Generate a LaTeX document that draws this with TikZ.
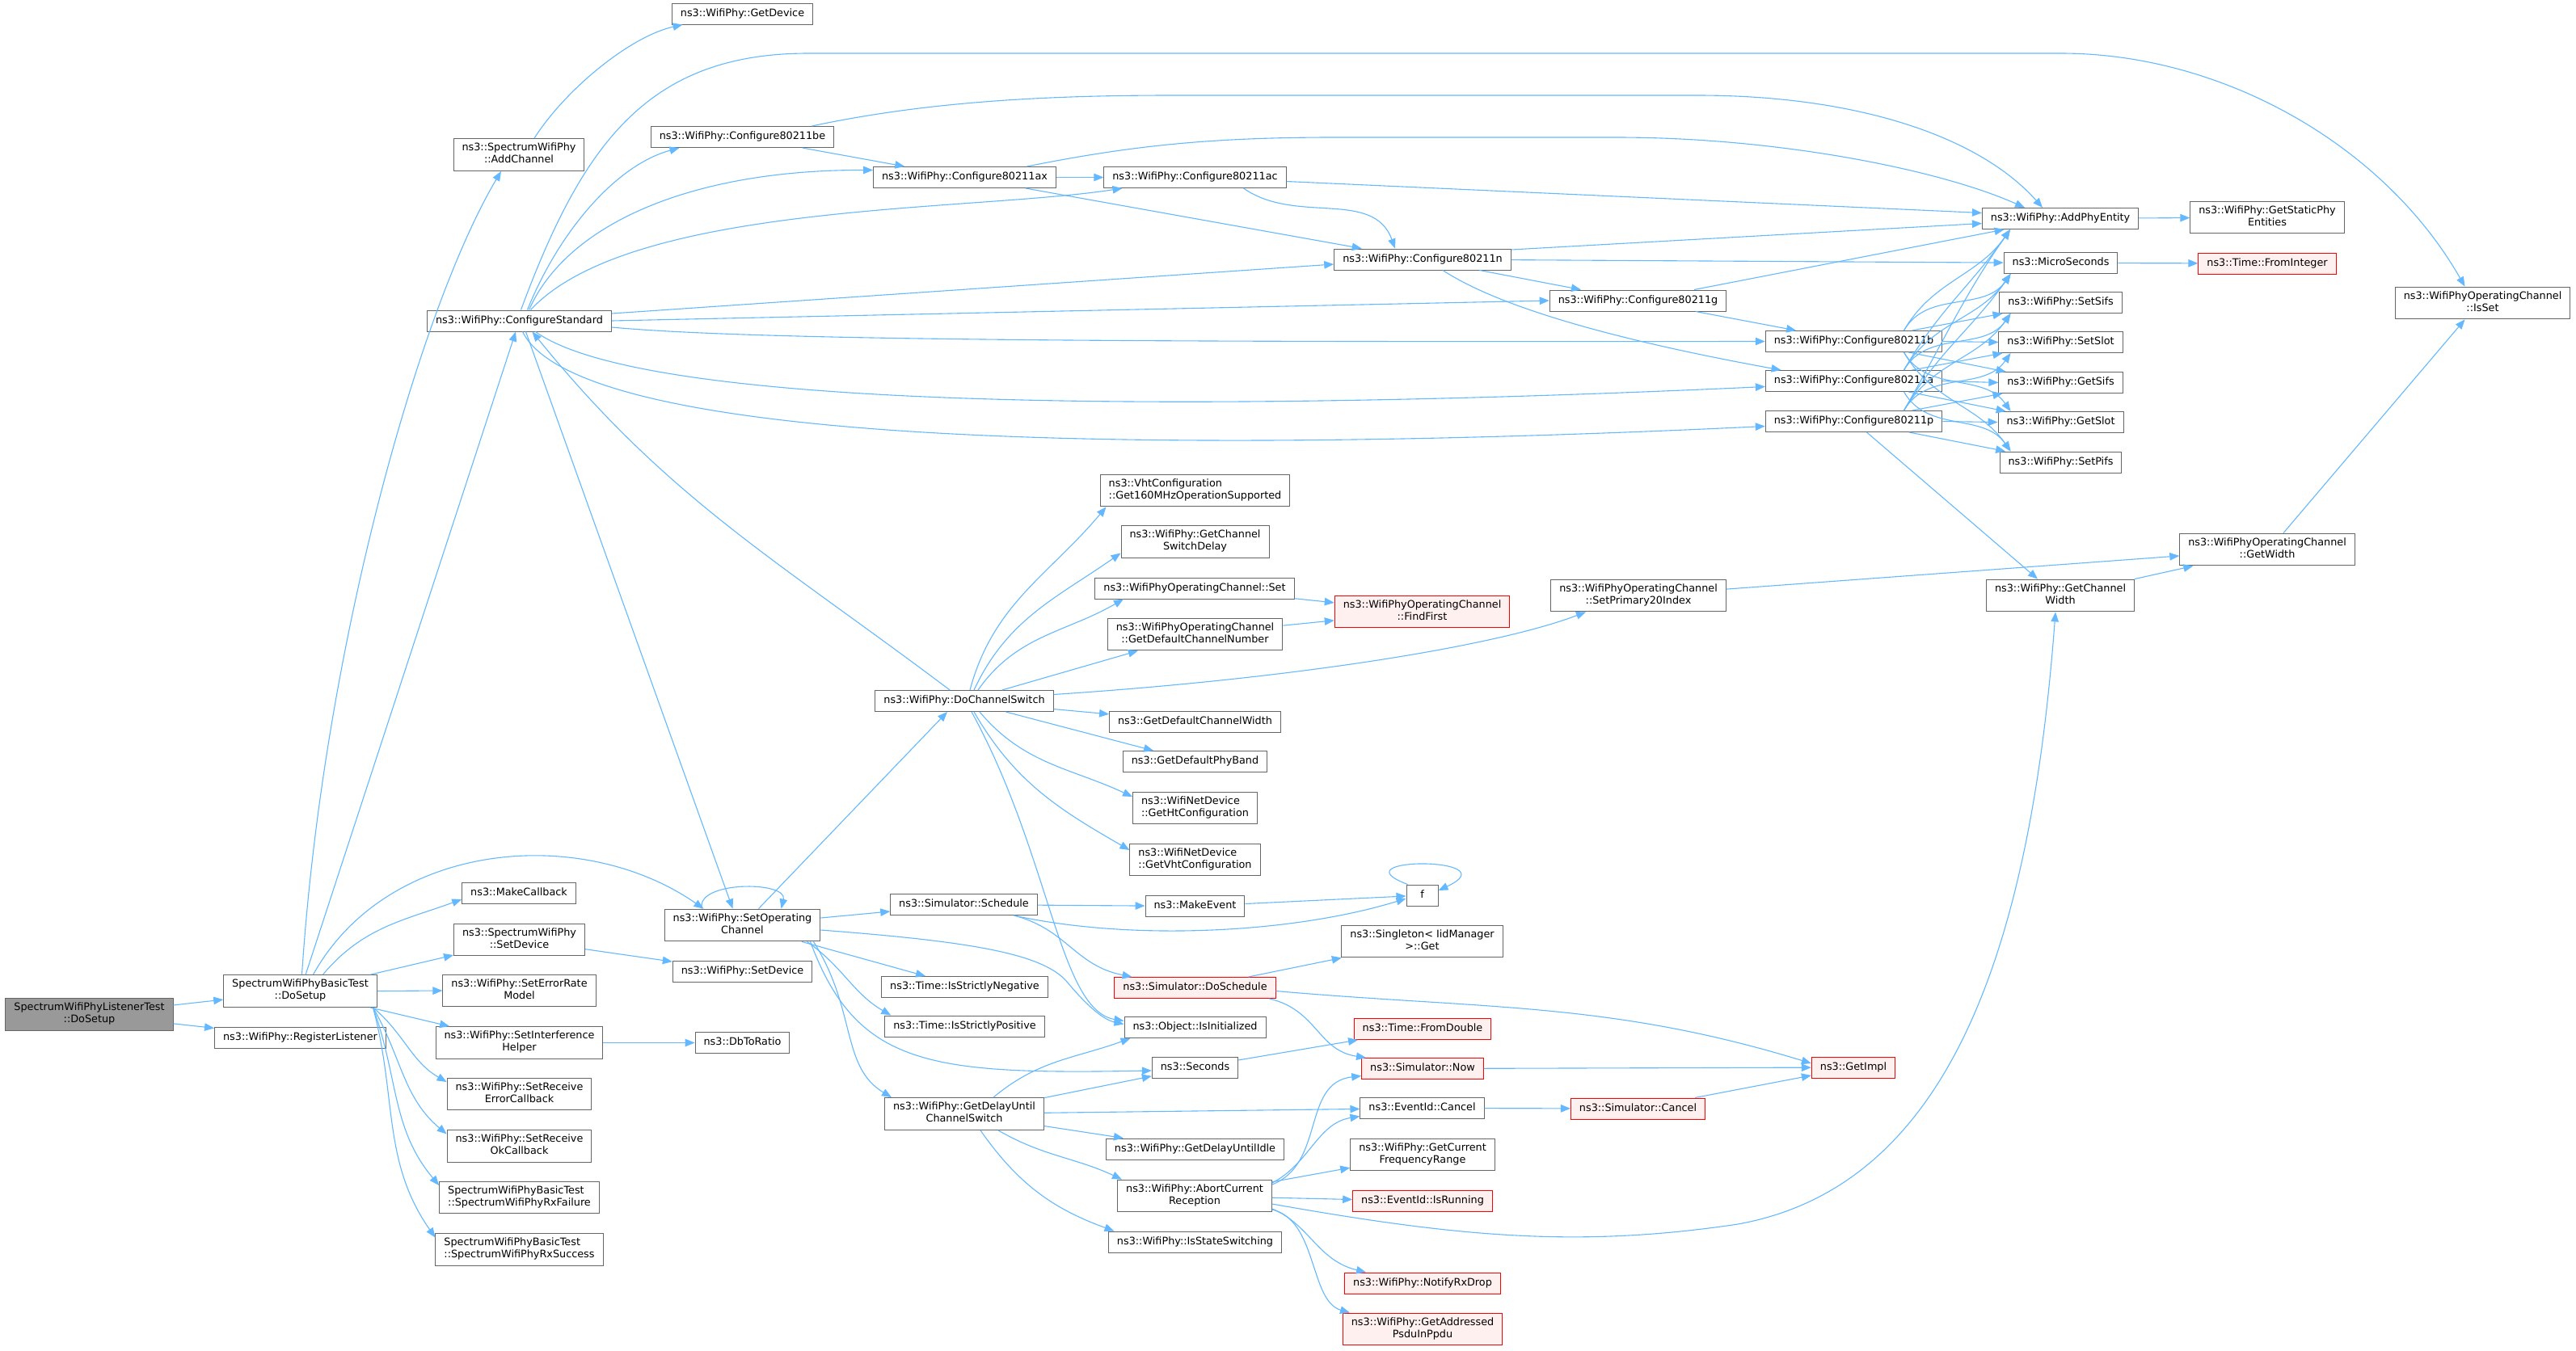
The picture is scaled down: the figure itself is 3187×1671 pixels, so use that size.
\documentclass[tikz,border=0pt]{standalone}
\usepackage{fontspec}
\setmainfont{DejaVu Sans}
\usetikzlibrary{arrows.meta}
\definecolor{edgeblue}{HTML}{63B8FF}
\definecolor{boxgray}{HTML}{666666}
\definecolor{rootfill}{HTML}{999999}
\definecolor{redfill}{HTML}{FFF0F0}

\begin{document}
\begin{tikzpicture}[x=1pt,y=1pt,
  fn/.style={draw=boxgray, line width=1pt, fill=white, inner xsep=10.5pt, inner ysep=5.3pt,
    minimum height=26pt, minimum width=39pt, align=center,
    font=\fontsize{12.8}{15}\selectfont, execute at begin node=\strut, execute at end node=\strut},
  root/.style={fn, fill=rootfill},
  miss/.style={fn, draw=red, fill=redfill},
  edge/.style={draw=edgeblue, line width=1.1pt, -{Triangle[length=12pt,width=9.5pt]}}]
\useasboundingbox (0,0) rectangle (3187,-1671);

\node[root] (lt) at (110.5,-1255.5) {SpectrumWifiPhyListenerTest\\::DoSetup};
\node[fn] (bt) at (371.5,-1226.5) {SpectrumWifiPhyBasicTest\\::DoSetup};
\node[fn] (rl) at (371.5,-1284) {ns3::WifiPhy::RegisterListener};
\node[fn] (mc) at (642,-1105) {ns3::MakeCallback};
\node[fn] (sd) at (642.5,-1163) {ns3::SpectrumWifiPhy\\::SetDevice};
\node[fn] (erm) at (642.5,-1226) {ns3::WifiPhy::SetErrorRate\\Model};
\node[fn] (ih) at (642.5,-1290.5) {ns3::WifiPhy::SetInterference\\Helper};
\node[fn] (rec) at (642.5,-1354) {ns3::WifiPhy::SetReceive\\ErrorCallback};
\node[fn] (roc) at (642.5,-1418.5) {ns3::WifiPhy::SetReceive\\OkCallback};
\node[fn,align=left] (rxf) at (642.5,-1482) {SpectrumWifiPhyBasicTest\\::SpectrumWifiPhyRxFailure};
\node[fn,align=left] (rxs) at (642.5,-1546.5) {SpectrumWifiPhyBasicTest\\::SpectrumWifiPhyRxSuccess};
\node[fn] (ac) at (642,-191.5) {ns3::SpectrumWifiPhy\\::AddChannel};
\node[fn] (cs) at (642.5,-397) {ns3::WifiPhy::ConfigureStandard};
\node[fn] (gd) at (918.5,-17) {ns3::WifiPhy::GetDevice};
\node[fn] (be) at (918.5,-169.5) {ns3::WifiPhy::Configure80211be};
\node[fn] (ax) at (1193.5,-219.5) {ns3::WifiPhy::Configure80211ax};
\node[fn] (acc) at (1478.5,-219.5) {ns3::WifiPhy::Configure80211ac};
\node[fn] (n) at (1760,-321) {ns3::WifiPhy::Configure80211n};
\node[fn] (g) at (2026.5,-372) {ns3::WifiPhy::Configure80211g};
\node[fn] (b) at (2293.5,-422.5) {ns3::WifiPhy::Configure80211b};
\node[fn] (a) at (2293.5,-471.5) {ns3::WifiPhy::Configure80211a};
\node[fn] (p) at (2293.5,-521.5) {ns3::WifiPhy::Configure80211p};
\node[fn] (ape) at (2549,-270.5) {ns3::WifiPhy::AddPhyEntity};
\node[fn] (gspe) at (2805,-269) {ns3::WifiPhy::GetStaticPhy\\Entities};
\node[fn] (us) at (2549.5,-325.5) {ns3::MicroSeconds};
\node[miss] (fi) at (2805,-326) {ns3::Time::FromInteger};
\node[fn] (ssifs) at (2549.5,-374.5) {ns3::WifiPhy::SetSifs};
\node[fn] (sslot) at (2549.5,-423.5) {ns3::WifiPhy::SetSlot};
\node[fn] (gsifs) at (2549.5,-473.5) {ns3::WifiPhy::GetSifs};
\node[fn] (gslot) at (2549.5,-522.5) {ns3::WifiPhy::GetSlot};
\node[fn] (spifs) at (2549.5,-572) {ns3::WifiPhy::SetPifs};
\node[fn] (isset) at (3071.5,-375) {ns3::WifiPhyOperatingChannel\\::IsSet};
\node[fn] (gw) at (2805,-680) {ns3::WifiPhyOperatingChannel\\::GetWidth};
\node[fn] (sp20) at (2027,-737) {ns3::WifiPhyOperatingChannel\\::SetPrimary20Index};
\node[fn] (gcw) at (2549,-737) {ns3::WifiPhy::GetChannel\\Width};
\node[miss] (ff) at (1759.5,-757) {ns3::WifiPhyOperatingChannel\\::FindFirst};
\node[fn,align=left] (vht) at (1478.5,-607) {ns3::VhtConfiguration\\::Get160MHzOperationSupported};
\node[fn] (gcsd) at (1478.5,-670.5) {ns3::WifiPhy::GetChannel\\SwitchDelay};
\node[fn] (ocset) at (1478,-728) {ns3::WifiPhyOperatingChannel::Set};
\node[fn] (gdcn) at (1478.5,-785) {ns3::WifiPhyOperatingChannel\\::GetDefaultChannelNumber};
\node[fn] (dcs) at (1193,-867.5) {ns3::WifiPhy::DoChannelSwitch};
\node[fn] (gdcw) at (1478.5,-893.5) {ns3::GetDefaultChannelWidth};
\node[fn] (gdpb) at (1478.5,-942.5) {ns3::GetDefaultPhyBand};
\node[fn,align=left] (ght) at (1478.5,-1000) {ns3::WifiNetDevice\\::GetHtConfiguration};
\node[fn,align=left] (gvht) at (1478.5,-1064) {ns3::WifiNetDevice\\::GetVhtConfiguration};
\node[fn] (soc) at (918.5,-1145) {ns3::WifiPhy::SetOperating\\Channel};
\node[fn] (wsd) at (918.5,-1202.5) {ns3::WifiPhy::SetDevice};
\node[fn] (dbr) at (918.5,-1290.5) {ns3::DbToRatio};
\node[fn] (sch) at (1192.5,-1119.5) {ns3::Simulator::Schedule};
\node[fn] (isn) at (1193.5,-1221.5) {ns3::Time::IsStrictlyNegative};
\node[fn] (isp) at (1193.5,-1270) {ns3::Time::IsStrictlyPositive};
\node[fn] (gducs) at (1193,-1378.5) {ns3::WifiPhy::GetDelayUntil\\ChannelSwitch};
\node[fn] (me) at (1478.5,-1121.5) {ns3::MakeEvent};
\node[fn] (f) at (1759.5,-1108) {f};
\node[fn] (sing) at (1759.5,-1165) {ns3::Singleton< IidManager\\>::Get};
\node[miss] (dsch) at (1478.5,-1222.5) {ns3::Simulator::DoSchedule};
\node[fn] (oi) at (1478.5,-1271.5) {ns3::Object::IsInitialized};
\node[miss] (fd) at (1760,-1273.5) {ns3::Time::FromDouble};
\node[fn] (sec) at (1478.5,-1321) {ns3::Seconds};
\node[miss] (now) at (1760,-1322.5) {ns3::Simulator::Now};
\node[fn] (ecan) at (1759.5,-1371.5) {ns3::EventId::Cancel};
\node[fn] (gdui) at (1478.5,-1422) {ns3::WifiPhy::GetDelayUntilIdle};
\node[fn] (gcfr) at (1760,-1429) {ns3::WifiPhy::GetCurrent\\FrequencyRange};
\node[fn] (acr) at (1478,-1480) {ns3::WifiPhy::AbortCurrent\\Reception};
\node[miss] (eir) at (1760,-1486.5) {ns3::EventId::IsRunning};
\node[fn] (iss) at (1478.5,-1537) {ns3::WifiPhy::IsStateSwitching};
\node[miss] (scan) at (2026.5,-1372) {ns3::Simulator::Cancel};
\node[miss] (gi) at (2293,-1321) {ns3::GetImpl};
\node[miss] (nrd) at (1760,-1588) {ns3::WifiPhy::NotifyRxDrop};
\node[miss] (gap) at (1760,-1645) {ns3::WifiPhy::GetAddressed\\PsduInPpdu};

\draw[edge] (lt) -- (bt);
\draw[edge] (lt) -- (rl);
\draw[edge] ([xshift=2pt]bt.north) .. controls (400,-800) and (520,-380) .. ([xshift=-22pt]ac.south);
\draw[edge] (bt) -- (cs);
\draw[edge] ([xshift=16pt]bt.north) .. controls (480,-1040) and (720,-1020) .. ([xshift=-48pt]soc.north);
\draw[edge] ([xshift=28pt]bt.north) to[out=50,in=200] ([yshift=-8pt]mc.west);
\draw[edge] (bt) -- (sd);
\draw[edge] (bt.east) -- (erm.west);
\draw[edge] (bt) -- (ih);
\foreach \t/\o/\i in {rec/-40/150, roc/-60/140, rxf/-70/130, rxs/-75/125}
  \draw[edge] ([xshift=90pt]bt.south) to[out=\o,in=\i] ([yshift=15pt]\t.west);
\draw[edge] ([xshift=19pt]ac.north) .. controls (700,-110) and (780,-45) .. ([xshift=-74pt]gd.south);
\draw[edge] (sd) -- (wsd);
\draw[edge] (ih) -- (dbr);

\draw[edge] ([xshift=10pt]cs.north) .. controls (690,-290) and (760,-205) .. ([xshift=-78pt]be.south);
\draw[edge] ([xshift=12pt]cs.north) .. controls (700,-280) and (850,-210) .. ([yshift=9pt]ax.west);
\draw[edge] ([xshift=14pt]cs.north) .. controls (780,-250) and (1200,-262) .. ([xshift=-90pt]acc.south);
\draw[edge] ([yshift=9pt]cs.east) -- ([yshift=-6pt]n.west);
\draw[edge] (cs.east) -- (g.west);
\draw[edge] ([yshift=-8pt]cs.east) .. controls (950,-423) and (1500,-423) .. (b.west);
\draw[edge] ([xshift=20pt]cs.south) .. controls (800,-510) and (1500,-510) .. ([yshift=-7pt]a.west);
\draw[edge] ([xshift=4pt]cs.south) .. controls (720,-560) and (1500,-560) .. ([yshift=-6pt]p.west);
\draw[edge] ([xshift=2pt]cs.north) .. controls (720,-180) and (800,-66) .. (1000,-66) -- (2550,-66)
  .. controls (2750,-66) and (2950,-180) .. ([xshift=-22pt]isset.north);
\draw[edge] ([xshift=8pt]cs.south) -- ([xshift=-12pt]soc.north);

\draw[edge] (be) -- (ax);
\draw[edge] ([xshift=86pt]be.north) .. controls (1150,-125) and (1300,-118) .. (1450,-118) -- (2100,-118)
  .. controls (2300,-118) and (2450,-170) .. ([xshift=-22pt]ape.north);
\draw[edge] ([xshift=77pt]ax.north) .. controls (1400,-180) and (1500,-170) .. (1650,-170) -- (2000,-170)
  .. controls (2200,-170) and (2400,-210) .. ([xshift=-44pt]ape.north);
\draw[edge] (ax) -- (acc);
\draw[edge] (ax) -- (n);
\draw[edge] ([yshift=-5pt]acc.east) -- ([yshift=7pt]ape.west);
\draw[edge] ([xshift=60pt]acc.south) to[out=-35,in=110] ([xshift=-34pt]n.north);
\draw[edge] ([yshift=12pt]n.east) -- ([yshift=-6pt]ape.west);
\draw[edge] (n) -- (us);
\draw[edge] (n) -- (g);
\draw[edge] ([xshift=25pt]n.south) .. controls (1870,-390) and (2050,-430) .. ([xshift=-90pt]a.north);
\draw[edge] (g) -- (ape);
\draw[edge] (g) -- (b);

\foreach \s/\t in {b/ape, b/us, a/ape, a/us, a/ssifs, p/ape, p/us, p/ssifs, p/sslot}
  \draw[edge] ([xshift=62pt]\s.north) to[out=60,in=235] ([xshift=-62pt]\t.south);
\foreach \s/\t in {b/gslot, b/spifs, a/spifs}
  \draw[edge] ([xshift=62pt]\s.south) to[out=-60,in=125] ([xshift=-62pt]\t.north);
\foreach \s/\t in {b/ssifs, b/gsifs, a/sslot, a/gslot, p/gsifs, p/spifs}
  \draw[edge] (\s) -- (\t);
\foreach \s/\t in {b/sslot, a/gsifs, p/gslot}
  \draw[edge] (\s.east) -- (\t.west);
\draw[edge] ([xshift=16pt]p.south) -- ([xshift=-28pt]gcw.north);
\draw[edge] (gcw) -- (gw);
\draw[edge] ([xshift=20pt]gw.north) -- ([xshift=-22pt]isset.south);
\draw[edge] (sp20) -- (gw);
\draw[edge] (us) -- (fi);
\draw[edge] (ape) -- (gspe);

\draw[edge] (dcs) to[out=143,in=-51] ([xshift=16pt]cs.south);
\draw[edge] ([xshift=7pt]dcs.north) to[out=75,in=230] ([xshift=-110pt]vht.south);
\draw[edge] ([xshift=12pt]dcs.north) to[out=65,in=215] ([yshift=-14pt]gcsd.west);
\draw[edge] ([xshift=17pt]dcs.north) to[out=55,in=210] ([xshift=-88pt]ocset.south);
\draw[edge] (dcs) -- (gdcn);
\draw[edge] ([yshift=8pt]dcs.east) .. controls (1600,-840) and (1850,-800) .. ([xshift=-65pt]sp20.south);
\draw[edge] (dcs) -- (gdcw);
\draw[edge] (dcs) -- (gdpb);
\draw[edge] ([xshift=19pt]dcs.south) to[out=-50,in=155] ([yshift=14pt]ght.west);
\draw[edge] ([xshift=12pt]dcs.south) to[out=-60,in=150] ([yshift=12pt]gvht.west);
\draw[edge] ([xshift=9pt]dcs.south) .. controls (1300,-1060) and (1310,-1250) .. ([yshift=8pt]oi.west);
\draw[edge] (ocset) -- (ff);
\draw[edge] (gdcn) -- (ff);

\draw[edge] ([xshift=-50pt]soc.north) .. controls (860,-1090) and (975,-1090) .. ([xshift=48pt]soc.north);
\draw[edge] ([xshift=20pt]soc.north) -- ([xshift=-21pt]dcs.south);
\draw[edge] (soc) -- (sch);
\draw[edge] ([yshift=-6pt]soc.east) .. controls (1200,-1165) and (1290,-1180) .. (1320,-1215)
  .. controls (1345,-1245) and (1365,-1262) .. ([yshift=4pt]oi.west);
\draw[edge] (soc) -- (isn);
\draw[edge] ([xshift=80pt]soc.south) to[out=-35,in=150] ([xshift=8pt]isp.north west);
\draw[edge] ([xshift=84pt]soc.south) .. controls (1060,-1320) and (1150,-1330) .. ([yshift=-4pt]sec.west);
\draw[edge] ([xshift=88pt]soc.south) .. controls (1060,-1250) and (1040,-1320) .. ([xshift=-90pt]gducs.north);

\draw[edge] (sch) -- (me);
\draw[edge] ([xshift=62pt]sch.south) .. controls (1400,-1165) and (1600,-1155) .. ([yshift=-4pt]f.west);
\draw[edge] ([xshift=62pt]sch.south) .. controls (1320,-1150) and (1330,-1195) .. ([xshift=-78pt]dsch.north);
\draw[edge] (me) -- (f);
\draw[edge] ([xshift=-18pt]f.north) .. controls (1650,-1060) and (1870,-1060) .. ([yshift=6pt]f.east);
\draw[edge] (dsch) -- (sing);
\draw[edge] ([yshift=-4pt]dsch.east) to[out=-5,in=163] ([yshift=5pt]gi.west);
\draw[edge] ([xshift=92pt]dsch.south) .. controls (1630,-1250) and (1630,-1300) .. ([xshift=-70pt]now.north);
\draw[edge] (now) -- (gi);
\draw[edge] (scan) -- (gi);
\draw[edge] (ecan) -- (scan);
\draw[edge] (sec) -- (fd);

\draw[edge] ([xshift=36pt]gducs.north) to[out=40,in=200] ([xshift=-80pt]oi.south);
\draw[edge] (gducs) -- (sec);
\draw[edge] (gducs) -- (ecan);
\draw[edge] (gducs) -- (gdui);
\draw[edge] ([xshift=42pt]gducs.south) to[out=-30,in=155] ([xshift=-90pt]acr.north);
\draw[edge] ([xshift=20pt]gducs.south) to[out=-55,in=160] ([xshift=-100pt]iss.north);

\draw[edge] ([yshift=14pt]acr.east) .. controls (1640,-1440) and (1610,-1340) .. ([yshift=-9pt]now.west);
\draw[edge] ([yshift=16pt]acr.east) .. controls (1620,-1440) and (1630,-1390) .. ([yshift=-10pt]ecan.west);
\draw[edge] (acr) -- (gcfr);
\draw[edge] (acr) -- (eir);
\draw[edge] ([yshift=-10pt]acr.east) .. controls (1800,-1530) and (1950,-1545) .. (2150,-1515)
  .. controls (2400,-1470) and (2510,-1200) .. ([xshift=-6pt]gcw.south);
\draw[edge] ([yshift=-16pt]acr.east) .. controls (1620,-1515) and (1630,-1560) .. ([xshift=-70pt]nrd.north);
\draw[edge] ([yshift=-17pt]acr.east) .. controls (1630,-1510) and (1620,-1610) .. ([xshift=-90pt]gap.north);
\end{tikzpicture}
\end{document}
